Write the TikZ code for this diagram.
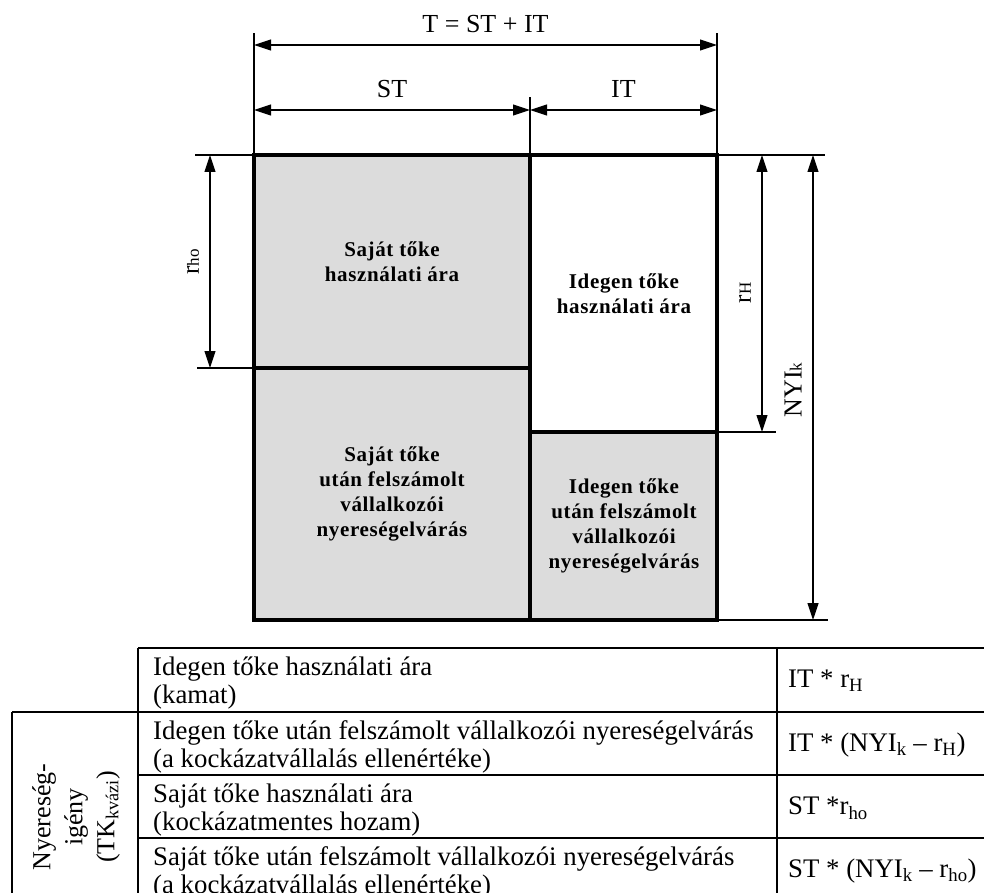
\documentclass[tikz,border=0pt]{standalone}
\usepackage{fontspec}
\setmainfont{Liberation Serif}
\newfontfamily\cellfont[LetterSpace=3.0]{Liberation Serif}
\usetikzlibrary{arrows.meta}
\definecolor{cellgray}{RGB}{220,220,220}
\newcommand{\lowpart}[1]{{\fontsize{17}{17}\selectfont #1}}
\tikzset{
	dimline/.style = {line width = 1.1pt},
	boxline/.style = {line width = 3.2pt},
	tabline/.style = {line width = 2.7pt},
	toplabel/.style = {inner sep = 0pt, font = \fontsize{26}{30}\selectfont},
	sidelabel/.style = {rotate = 90, inner sep = 0pt, font = \fontsize{25}{30}\selectfont},
	celltext/.style = {align = center, font = \cellfont\bfseries\fontsize{21}{25}\selectfont},
	tabtext/.style = {anchor = base west, align = left, inner sep = 0pt, font = \fontsize{26.8}{28}\selectfont},
	formula/.style = {anchor = west, inner sep = 0pt, font = \fontsize{26.8}{28}\selectfont}
}

\begin{document}
\begin{tikzpicture} [x = 1pt, y = -1pt, >={Triangle[length = 17pt, width = 11pt]}]
	\useasboundingbox (0,0) rectangle (984,893);
	% corners of the block
	\coordinate (tl) at (254,155);
	\coordinate (tm) at (530,155);
	\coordinate (tr) at (717,155);
	\coordinate (ls) at (254,368);
	\coordinate (ms) at (530,368);
	\coordinate (mr) at (530,432);
	\coordinate (rs) at (717,432);
	\coordinate (bl) at (254,620);
	\coordinate (bm) at (530,620);
	\coordinate (br) at (717,620);
	% ends of the dimension lines
	\coordinate (tA) at (254,45);
	\coordinate (tB) at (717,45);
	\coordinate (sA) at (254,110);
	\coordinate (sB) at (530,110);
	\coordinate (sC) at (717,110);
	\coordinate (hoA) at (210,155);
	\coordinate (hoB) at (210,368);
	\coordinate (hA) at (762,155);
	\coordinate (hB) at (762,432);
	\coordinate (kA) at (813,155);
	\coordinate (kB) at (813,620);
	\fill [cellgray] (tl) rectangle (ms);
	\fill [cellgray] (ls) rectangle (bm);
	\fill [cellgray] (mr) rectangle (br);
	% extension lines
	\draw [dimline] (195,155) -- (825,155);
	\draw [dimline] (197,368) -- (ls);
	\draw [dimline] (rs) -- (776,432);
	\draw [dimline] (br) -- (828,620);
	\draw [dimline] (tl) -- (254,33);
	\draw [dimline] (tm) -- (530,97);
	\draw [dimline] (tr) -- (717,33);
	\draw [dimline, <->] (tA) -- (tB) node [midway, above = 12pt, toplabel] (tlabel) {T = ST + IT};
	\draw [dimline, <->] (sA) -- (sB) node [midway, above = 12pt, toplabel] (stlabel) {ST};
	\draw [dimline, <->] (sB) -- (sC) node [midway, above = 12pt, toplabel] (itlabel) {IT};
	\draw [dimline, <->] (hoA) -- (hoB);
	\draw [dimline, <->] (hA) -- (hB);
	\draw [dimline, <->] (kA) -- (kB);
	\node [sidelabel] (rholabel) at (193,262) {r\lowpart{ho}};
	\node [sidelabel] (rhlabel) at (745,293) {r\lowpart{H}};
	\node [sidelabel, font = \fontsize{26}{30}\selectfont] (nyilabel) at (793,390) {NYI\lowpart{k}};
	% the block
	\draw [boxline] (tl) rectangle (br);
	\draw [boxline] (tm) -- (bm);
	\draw [boxline] (ls) -- (ms);
	\draw [boxline] (mr) -- (rs);
	\node [celltext] (stuse) at (392,262) {Saját tőke\\használati ára};
	\node [celltext] (ituse) at (624,294) {Idegen tőke\\használati ára};
	\node [celltext] (stprofit) at (392,494) {Saját tőke\\után felszámolt\\vállalkozói\\nyereségelvárás};
	\node [celltext] (itprofit) at (624,526) {Idegen tőke\\után felszámolt\\vállalkozói\\nyereségelvárás};
	% table below
	\draw [tabline] (138,648) -- (984,648);
	\draw [tabline] (12,712) -- (984,712);
	\draw [tabline] (138,775) -- (984,775);
	\draw [tabline] (138,838) -- (984,838);
	\draw [tabline] (12,712) -- (12,893);
	\draw [tabline] (138,648) -- (138,893);
	\draw [tabline] (777,648) -- (777,893);
	\node [tabtext] (rowa) at (153,703) {Idegen tőke használati ára\\(kamat)};
	\node [tabtext] (rowb) at (153,767) {Idegen tőke után felszámolt vállalkozói nyereségelvárás\\(a kockázatvállalás ellenértéke)};
	\node [tabtext] (rowc) at (153,830) {Saját tőke használati ára\\(kockázatmentes hozam)};
	\node [tabtext] (rowd) at (153,893) {Saját tőke után felszámolt vállalkozói nyereségelvárás\\(a kockázatvállalás ellenértéke)};
	\node [formula] (fa) at (788,681) {IT * r\textsubscript{H}};
	\node [formula] (fb) at (788,745) {IT * (NYI\textsubscript{k} – r\textsubscript{H})};
	\node [formula] (fc) at (788,808) {ST *r\textsubscript{ho}};
	\node [formula] (fd) at (788,871) {ST * (NYI\textsubscript{k} – r\textsubscript{ho})};
	\node [align = center, rotate = 90, inner sep = 0pt, font = \fontsize{26}{32}\selectfont] (need) at (76,817) {Nyereség-\\igény\\(TK\textsubscript{kvázi})};
\end{tikzpicture}
\end{document}
